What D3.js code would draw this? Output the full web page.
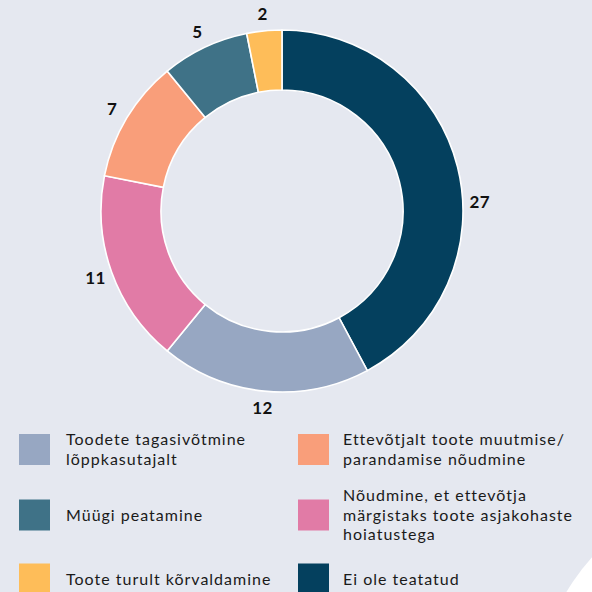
<!DOCTYPE html>
<html>
<head>
<meta charset="utf-8">
<script src="https://cdn.jsdelivr.net/npm/d3@7"></script>
<style>
  html, body { margin: 0; padding: 0; background: #e5e8f0; }
  svg { display: block; font-family: Lato, "Open Sans", sans-serif; }
</style>
</head>
<body>
<div id="chart"></div>
<script>
// slices, clockwise from 12 o'clock
var categories = [
  "Ei ole teatatud",
  "Toodete tagasivõtmine lõppkasutajalt",
  "Nõudmine, et ettevõtja märgistaks toote asjakohaste hoiatustega",
  "Ettevõtjalt toote muutmise/ parandamise nõudmine",
  "Müügi peatamine",
  "Toote turult kõrvaldamine"
];
var values = [27, 12, 11, 7, 5, 2];
var colors = ["#04405e", "#97a7c2", "#e17ba6", "#f99e7a", "#3f7287", "#febd59"];

// legend: two columns, three rows; each entry is a slice index + its wrapped lines
var legendLeft = [
  { idx: 1, lines: ["Toodete tagasivõtmine", "lõppkasutajalt"] },
  { idx: 4, lines: ["Müügi peatamine"] },
  { idx: 5, lines: ["Toote turult kõrvaldamine"] }
];
var legendRight = [
  { idx: 3, lines: ["Ettevõtjalt toote muutmise/", "parandamise nõudmine"] },
  { idx: 2, lines: ["Nõudmine, et ettevõtja", "märgistaks toote asjakohaste", "hoiatustega"] },
  { idx: 0, lines: ["Ei ole teatatud"] }
];

var width = 592;
var height = 592;
var cx = 282, cy = 211;
var outerR = 181, innerR = 121;

var svg = d3.select("#chart")
  .append("svg")
  .attr("width", width)
  .attr("height", height);

svg.append("rect")
  .attr("width", width)
  .attr("height", height)
  .style("fill", "#e5e8f0");

// white decorative shape in the bottom right corner
svg.append("circle")
  .attr("cx", 750)
  .attr("cy", 700)
  .attr("r", 213)
  .style("fill", "#ffffff");

var pie = d3.pie().sort(null).value(function(d) { return d; });
var arcs = pie(values);

var arc = d3.arc().innerRadius(innerR).outerRadius(outerR);

var g = svg.append("g").attr("transform", "translate(" + cx + "," + cy + ")");

g.selectAll("path.slice")
  .data(arcs)
  .enter()
  .append("path")
  .attr("class", "slice")
  .attr("d", arc)
  .style("fill", function(d, i) { return colors[i]; })
  .style("stroke", "#ffffff")
  .style("stroke-width", 1.6);

// value labels just outside the ring; the big slice label sits lower
var labelR = 198;
g.selectAll("text.val")
  .data(arcs)
  .enter()
  .append("text")
  .attr("class", "val")
  .attr("x", function(d, i) {
    var a = (d.startAngle + d.endAngle) / 2 + (i === 0 ? 0.2 : 0);
    return labelR * Math.sin(a);
  })
  .attr("y", function(d, i) {
    var a = (d.startAngle + d.endAngle) / 2 + (i === 0 ? 0.2 : 0);
    return -labelR * Math.cos(a);
  })
  .attr("text-anchor", "middle")
  .attr("dy", "0.36em")
  .style("font-size", "17px")
  .style("font-weight", "700")
  .style("letter-spacing", "0.5px")
  .style("fill", "#111111")
  .text(function(d) { return d.value; });

// legend
var rowY = [449.5, 515, 579];
var lineH = 19.3;

function drawLegendColumn(items, boxX, textX) {
  items.forEach(function(item, r) {
    var yc = rowY[r];
    svg.append("rect")
      .attr("x", boxX)
      .attr("y", yc - 15.5)
      .attr("width", 31)
      .attr("height", 31)
      .style("fill", colors[item.idx]);
    var n = item.lines.length;
    var t = svg.append("text")
      .attr("x", textX)
      .style("font-size", "16px")
      .style("letter-spacing", "1px")
      .style("fill", "#1a1a1a");
    item.lines.forEach(function(line, k) {
      t.append("tspan")
        .attr("x", textX)
        .attr("y", yc + 5.5 + (k - (n - 1) / 2) * lineH)
        .text(line);
    });
  });
}

drawLegendColumn(legendLeft, 19, 66);
drawLegendColumn(legendRight, 298, 343);
</script>
</body>
</html>
